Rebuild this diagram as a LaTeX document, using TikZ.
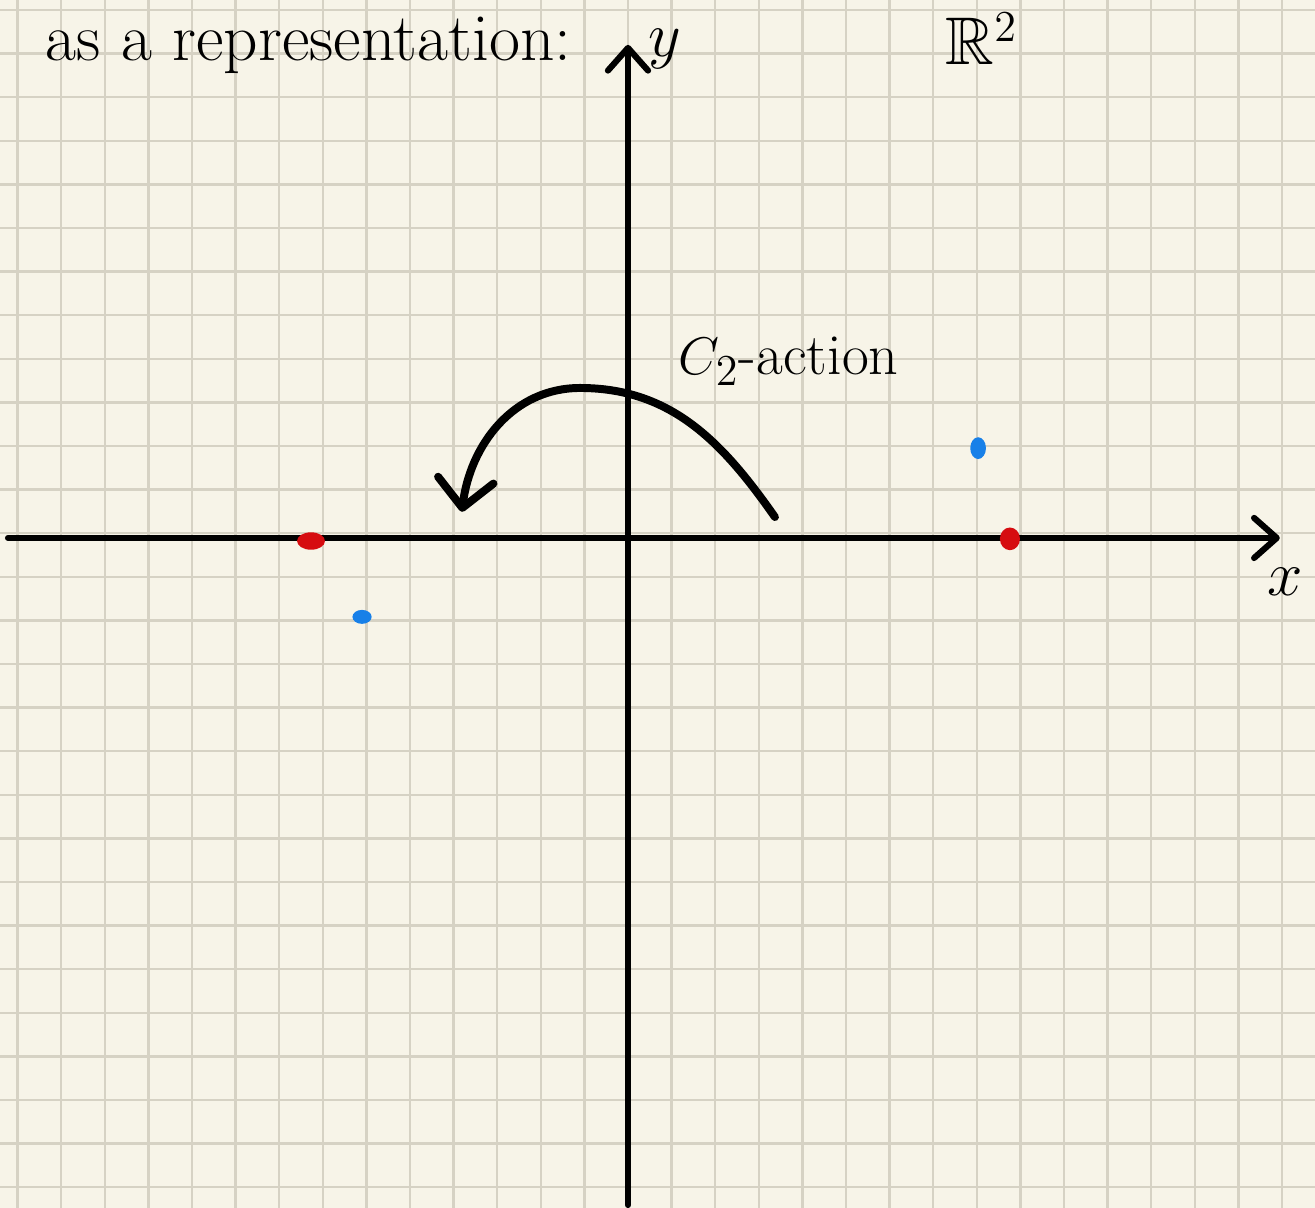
\documentclass[tikz,border=0pt]{standalone}
\usepackage{amssymb}
\usetikzlibrary{arrows.meta}
\definecolor{carta}{RGB}{247,244,232}
\definecolor{righe}{RGB}{214,210,196}
\definecolor{rossopunto}{RGB}{214,12,16}
\definecolor{blupunto}{RGB}{24,128,232}

\begin{document}
\begin{tikzpicture}[x=0.5cm, y=0.5cm,
    griglia/.style={righe, line width=0.8pt},
    asse/.style={line width=2pt, line cap=round, -{Straight Barb[length=2.6mm, width=4.6mm, round]}},
    azione/.style={line width=2.6pt, line cap=round, -{Straight Barb[length=3.2mm, width=6.4mm, round]}},
    scritta/.style={inner sep=0pt}
]
    % Foglio a quadretti
    \useasboundingbox (-14.404,-15.367) rectangle (15.757,12.339);
    \fill[carta] (-14.404,-15.367) rectangle (15.757,12.339);
    \draw[griglia, step=0.5cm, shift={(0,0.11)}] (-14.6,-15.6) grid (15.9,12.3);

    % Assi
    \coordinate (O) at (0,0);
    \coordinate (xsin) at (-14.22,0);
    \coordinate (xdes) at (14.95,0);
    \coordinate (ybas) at (0,-15.30);
    \coordinate (yalt) at (0,11.31);
    \draw[asse] (xsin) -- (xdes);
    \draw[asse] (ybas) -- (yalt);
    \node[scritta, anchor=base, font=\fontsize{20}{24}\selectfont] (xlab) at (15.07,-1.31) {$x$};
    \node[scritta, anchor=base west, font=\fontsize{22}{26}\selectfont] (ylab) at (0.45,11.05) {$y$};

    % Titolo
    \node[scritta, anchor=base west, font=\fontsize{22}{26}\selectfont] (titolo) at (-13.37,10.96) {as a representation:};
    \node[scritta, anchor=base west, font=\fontsize{22}{26}\selectfont] (spazio) at (7.27,10.85) {$\mathbb{R}^2$};

    % Azione di C2
    \coordinate (inizio) at (3.37,0.48);
    \coordinate (cima) at (-1.10,3.44);
    \coordinate (fine) at (-3.81,0.60);
    \draw[azione] (inizio) to[out=125, in=0] (cima) to[out=180, in=83] (fine);
    \node[scritta, anchor=base west, font=\fontsize{19}{23}\selectfont] (c2) at (1.15,3.74) {$C_2$-action};

    % Punti
    \fill[rossopunto] (-7.27,-0.07) ellipse (0.32 and 0.20);
    \fill[rossopunto] (8.76,-0.02) ellipse (0.23 and 0.26);
    \fill[blupunto] (8.03,2.06) ellipse (0.18 and 0.25);
    \fill[blupunto] (-6.10,-1.81) ellipse (0.22 and 0.16);

\end{tikzpicture}
\end{document}
